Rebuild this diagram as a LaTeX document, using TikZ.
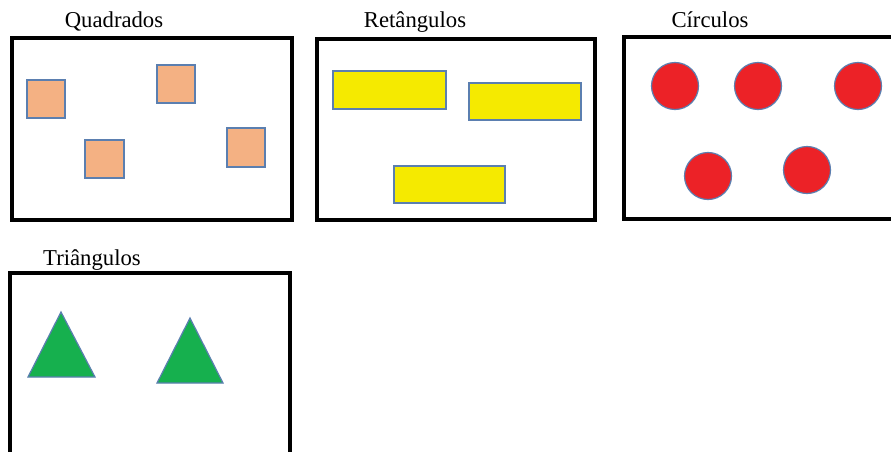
\documentclass[tikz,border=0pt]{standalone}
\usepackage{fontspec}
\setmainfont{Liberation Serif}
\newfontfamily\titlefont{Liberation Serif}
\definecolor{sqfill}{HTML}{F4B183}
\definecolor{edgeblue}{HTML}{5B7FB0}
\definecolor{rectfill}{HTML}{F5EA00}
\definecolor{circfill}{HTML}{EC2227}
\definecolor{trifill}{HTML}{16B04E}
\tikzset{
  frame/.style={draw=black,line width=4pt},
  title/.style={anchor=base,inner sep=0pt,font=\titlefont\fontsize{22.7}{27}\selectfont},
  shapeedge/.style={draw=edgeblue,line width=1.2pt},
  sq/.style={shapeedge,fill=sqfill},
  yrect/.style={shapeedge,fill=rectfill},
  rcirc/.style={shapeedge,fill=circfill},
  gtri/.style={shapeedge,fill=trifill,line join=miter},
}
\begin{document}
\begin{tikzpicture}[x=1pt,y=-1pt]
\useasboundingbox (0,0) rectangle (891,452);
\clip (0,0) rectangle (891,452);
\fill[white] (0,0) rectangle (891,452);
% frames
\draw[frame] (12,38) rectangle (292,220);
\draw[frame] (317,39) rectangle (595,220);
\draw[frame] (624,37) rectangle (900,219);
\draw[frame] (10,273) rectangle (290,470);
% titles
\node[title] (tq) at (114,28) {Quadrados};
\node[title] (tr) at (415,28) {Retângulos};
\node[title] (tc) at (710,28) {Círculos};
\node[title] (tt) at (92,265) {Triângulos};
% squares
\draw[sq] (27,80) rectangle (65,118);
\draw[sq] (157,65) rectangle (195,103);
\draw[sq] (85,140) rectangle (124,178);
\draw[sq] (227,128) rectangle (265,167);
% rectangles
\draw[yrect] (333,71) rectangle (446,109);
\draw[yrect] (469,83) rectangle (581,120);
\draw[yrect] (394,166) rectangle (505,203);
% circles
\draw[rcirc] (675,86) circle (23.5);
\draw[rcirc] (758,86) circle (23.5);
\draw[rcirc] (858,86) circle (23.5);
\draw[rcirc] (708,176) circle (23.5);
\draw[rcirc] (807,170) circle (23.5);
% triangles
\draw[gtri] (61,312) -- (95,377) -- (28,377) -- cycle;
\draw[gtri] (190,318) -- (223,383) -- (157,383) -- cycle;
\end{tikzpicture}
\end{document}
